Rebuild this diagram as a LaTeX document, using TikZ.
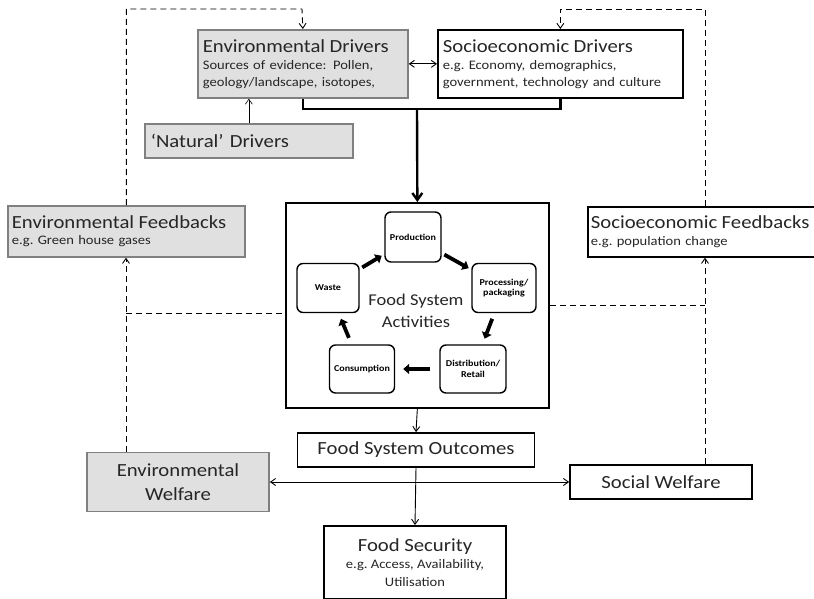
\documentclass[tikz,border=0pt]{standalone}
\usepackage{fontspec}
\setmainfont[FakeStretch=1.12]{Carlito}
\usetikzlibrary{arrows.meta,calc,positioning}
\newcommand\fsTitle{\fontsize{18.5}{21}\selectfont}
\newcommand\fsNote{\fontsize{13}{16.5}\selectfont}
\newcommand\fsStep{\fontsize{9}{10.5}\selectfont\bfseries}
\frenchspacing

\tikzset{
  box/.style={draw, line width=1.7pt, inner sep=0pt, fill=white, font=\fsNote, text=black!85},
  graybox/.style={box, fill=black!12, draw=black!50},
  stepbox/.style={draw, rounded corners=6pt, line width=1.4pt, align=center,
    font=\fsStep, inner sep=0pt},
  cyclearrow/.style={line width=3.8pt, -{Triangle[length=6pt,width=10pt]}},
  dash line/.style={dash pattern=on 6pt off 4pt, line width=0.9pt},
  arr/.style={-{Straight Barb[length=5pt,width=7pt]}, line width=0.9pt},
  dblarr/.style={{Straight Barb[length=5pt,width=7pt]}-{Straight Barb[length=5pt,width=7pt]}, line width=0.9pt},
}

\begin{document}
\begin{tikzpicture}[x=1pt,y=-1pt]
\useasboundingbox (0,0) rectangle (814,599);

% drivers
\node[graybox, anchor=north west, minimum width=210, minimum height=68,
  text width=200, inner xsep=5pt, align=left] (envdrv) at (197,29)
  {{\fsTitle Environmental Drivers}\\[1pt] Sources of evidence:\, Pollen,\\ geology/landscape, isotopes,};
\node[box, anchor=north west, minimum width=245, minimum height=68,
  text width=235, inner xsep=5pt, align=left] (socdrv) at (437,29)
  {{\fsTitle Socioeconomic Drivers}\\[1pt] e.g. Economy, demographics,\\ government, technology and culture};
\node[graybox, anchor=north west, minimum width=208, minimum height=34,
  text width=196, inner xsep=6pt, align=left, font=\fsTitle] (natdrv) at (144,123)
  {‘Natural’ Drivers};

% feedbacks
\node[graybox, anchor=north west, minimum width=237, minimum height=51,
  text width=229, inner xsep=4pt, align=left] (envfb) at (7,205)
  {{\fsTitle Environmental Feedbacks}\\[0pt] e.g. Green house gases};
\node[box, anchor=north west, minimum width=232, minimum height=50,
  text width=226, inner xsep=3pt, align=left] (socfb) at (587,206)
  {{\fsTitle Socioeconomic Feedbacks}\\[0pt] e.g. population change};

% food system activities
\node[box, anchor=north west, minimum width=263, minimum height=205] (foodsys) at (285,202) {};
\node[align=center, font=\fontsize{16.5}{20}\selectfont, text=black!85] (activities) at (416,311) {Food System\\[2pt] Activities};
\node[stepbox, minimum width=56, minimum height=50] (prod) at (413,237) {Production};
\node[stepbox, minimum width=62, minimum height=49] (waste) at (328,288) {Waste};
\node[stepbox, minimum width=64, minimum height=49] (proc) at (504,288) {Processing/\\ packaging};
\node[stepbox, minimum width=65, minimum height=48] (cons) at (362,369) {Consumption};
\node[stepbox, minimum width=66, minimum height=48] (dist) at (473,369) {Distribution/\\ Retail};

\draw[cyclearrow, shorten <=3pt, shorten >=3pt] (prod) -- (proc);
\draw[cyclearrow, shorten <=6pt, shorten >=6pt] (proc) -- (dist);
\draw[cyclearrow, shorten <=9pt, shorten >=8pt] (dist) -- (cons);
\draw[cyclearrow, shorten <=7pt, shorten >=6pt] (cons) -- (waste);
\draw[cyclearrow, shorten <=3pt, shorten >=3pt] (waste) -- (prod);

% outcomes
\node[box, minimum width=237, minimum height=34, font=\fsTitle] (outcomes) at (416,450) {Food System Outcomes};
\node[graybox, minimum width=182, minimum height=59, align=center, font=\fsTitle] (envwel) at (178,482) {Environmental\\[3pt] Welfare};
\node[box, minimum width=182, minimum height=34, font=\fsTitle] (socwel) at (661,482) {Social Welfare};
\node[box, anchor=north, minimum width=182, minimum height=73, align=center] (foodsec) at (415,525)
  {{\fsTitle Food Security}\\[1pt] e.g. Access, Availability,\\[1pt] Utilisation};

% connectors
\coordinate (drvjoin) at (417,109);
\coordinate (topline) at (302,9);
\coordinate (dashR) at (705,9);
\coordinate (leftjoin) at (126,313);
\coordinate (rightjoin) at (705,305);

\draw[dblarr] (envdrv.east) -- (socdrv.west);
\draw[-{Straight Barb[length=5pt,width=7pt]}, line width=0.6pt] (natdrv.north) -- (envdrv.south -| natdrv.north);
\draw[line width=2.4pt] (envdrv.south) |- (drvjoin) -| (socdrv.south);
\draw[line width=2.4pt, -{Straight Barb[length=7pt,width=10pt]}] (drvjoin) -- (foodsys.north);

\draw[dash line, arr] (envfb.north) |- (topline) -- (envdrv.north);
\draw[dash line, arr] (socfb.north -| dashR) -- (dashR) -| (socdrv.north);
\draw[dash line, arr] (envwel.north -| leftjoin) -- (envfb.south -| leftjoin);
\draw[dash line] (leftjoin) -- (leftjoin -| foodsys.west);
\draw[dash line, arr] (socwel.north -| dashR) -- (socfb.south -| dashR);
\draw[dash line] (rightjoin -| foodsys.east) -- (rightjoin);

\draw[arr] (foodsys.south) -- (outcomes.north);
\draw[dblarr] (envwel.east) -- (socwel.west);
\draw[arr] (outcomes.south) -- (foodsec.north);
\end{tikzpicture}
\end{document}
